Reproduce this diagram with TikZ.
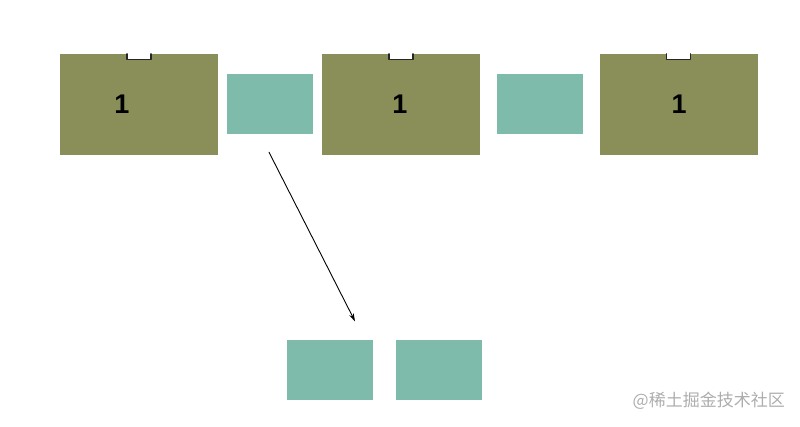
\documentclass[tikz,border=0pt]{standalone}
\usepackage{fontspec}
\setmainfont{Liberation Sans}
\newfontfamily\cjk{Noto Sans CJK SC}
\usetikzlibrary{arrows.meta}
\definecolor{olivebox}{HTML}{8A8F5A}
\definecolor{tealbox}{HTML}{7FBBAB}
\begin{document}
\begin{tikzpicture}[x=1pt, y=-1pt, line join=round, line cap=round, >={Stealth[length=8pt,width=5pt]}]
	\useasboundingbox (0,0) rectangle (800,426);
	\tikzset{
		oldbox/.style={fill=olivebox, minimum width=158pt, minimum height=101pt, inner sep=0pt},
		newbox/.style={fill=tealbox, minimum width=86pt, minimum height=60pt, inner sep=0pt},
		num/.style={font=\bfseries\fontsize{27}{27}\selectfont}
	}
	% ba khoi o tren
	\foreach \i/\x/\d in {1/139/-17,2/401/-1,3/678.5/0.5}{
		\node[oldbox] (o\i) at (\x,104.5) {};
		\node[num] (n\i) at ([xshift=\d pt]o\i.center) {1};
		\fill[white] ([xshift=-12pt]o\i.north) rectangle ([xshift=12pt,yshift=-6pt]o\i.north);
		\draw[black!85, line width=1.2pt] ([xshift=-12pt]o\i.north) -- ([xshift=-12pt,yshift=-6pt]o\i.north) -- ([xshift=12pt,yshift=-6pt]o\i.north) -- ([xshift=12pt]o\i.north);
	}
	\node[newbox] (t1) at (270,104) {};
	\node[newbox] (t2) at (540,104) {};
	% hai khoi o duoi
	\node[newbox] (b1) at (329.5,369.5) {};
	\node[newbox] (b2) at (439,369.5) {};
	\coordinate (s) at ([xshift=-1pt,yshift=-18pt]t1.south);
	\coordinate (e) at ([xshift=25.5pt,yshift=18pt]b1.north);
	\draw[->, line width=0.9pt] (s) -- (e);
	\node[anchor=east, text=black!32, font=\cjk\fontsize{17}{17}\selectfont, inner sep=0pt] (wm) at (785,401) {@稀土掘金技术社区};
\end{tikzpicture}
\end{document}
